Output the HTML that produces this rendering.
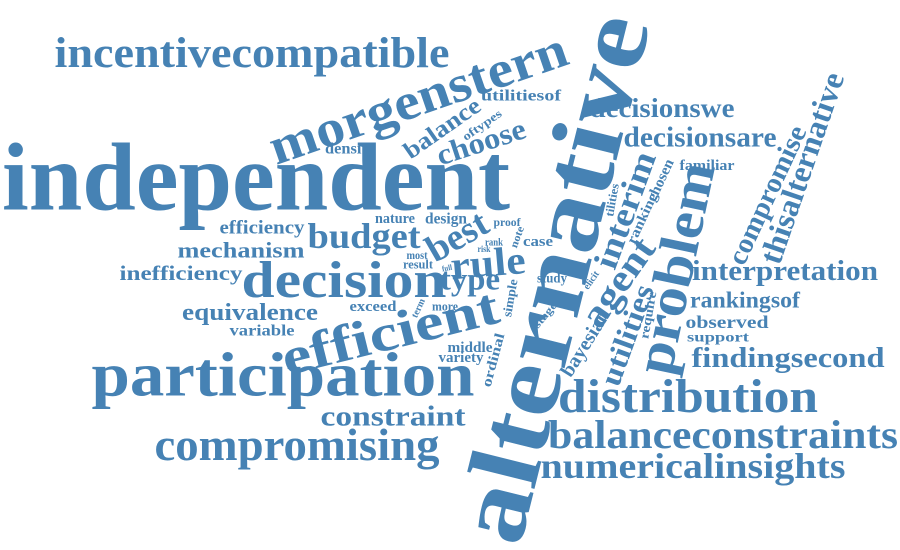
<!DOCTYPE html>
<html><head><meta charset="utf-8"><style>
html,body{margin:0;padding:0;background:#fff;width:900px;height:550px;overflow:hidden}
svg text{font-family:"Liberation Serif",serif;font-weight:bold;fill:#4682b4}
</style></head><body>
<svg id="cloud" width="900" height="550" viewBox="0 0 900 550" xmlns="http://www.w3.org/2000/svg"></svg>
<script>
const words = ["independent","incentivecompatible","morgenstern","alternative","participation","decision","efficient","distribution","balanceconstraints","numericalinsights","compromising","constraint","problem","agent","interim","utilities","bayesian","compromise","thisalternative","interpretation","rankingsof","observed","support","findingsecond","decisionswe","decisionsare","familiar","chosen","ranking","tilities","require","choose","balance","utilitiesof","oftypes","density","efficiency","mechanism","budget","nature","design","best","proof","rank","risk","note","case","most","result","full","rule","type","study","elicit","simple","stage","term","more","exceed","middle","variety","ordinal","equivalence","variable","inefficiency"];
const weights = [96,43,52,100,62,52,52,48,40,36,46,29,55,38,34,30,20,28,32,28,23,18,14,28,27,29,15,15,14,12,13,30,24,16,12,16,19,22,36,15,16,38,12,10,9,11,15,12,13,8,40,32,14,10,13,11,10,13,15,15,15,14,24,16,21];
const cxs = [256,252,418,553,283,344,390,688,723,693,297,393,675,618,625,627,585,767,802,785,745,727,718,788,662,700,707,660,642,612,648,481,442,521,482,350,262,241,364,395,446,457,507,494,484,517,538,417,418,447,488,470,552,591,510,545,418,445,373,470,461,493,250,262,181];
const cys = [178,53,98,278,375,280,332,396,435,466,445,416,268,282,210,335,343,195,168,271,300,322,337,358,108,137,165,180,218,200,315,142,128,95,125,148,227,250,236,218,218,236,222,242,249,237,241,255,264,268,263,279,278,280,298,315,308,306,306,347,357,360,312,330,273];
const angles = [0,0,-19,-76,0,0,-14,0,0,0,0,0,-78,-55,-70,-70,-58,-65,-71,0,0,0,0,0,0,0,0,-65,-65,-80,-80,-18,-35,0,-35,0,0,0,0,0,0,-30,0,0,0,-70,0,0,0,-10,-5,0,0,-55,-80,-50,-65,0,0,0,0,-75,0,0,0];
const spans = [508,395,312,540,383,205,222,260,350,305,285,145,215,100,122,105,75,150,200,186,110,83,62,193,145,153,55,45,55,33,48,92,88,80,45,50,85,127,113,40,42,65,27,18,13,22,30,21,30,10,75,60,30,20,38,30,20,26,47,45,45,55,136,65,123];

const svg = document.getElementById('cloud');
const NS = 'http://www.w3.org/2000/svg';
for (let i = 0; i < words.length; i++) {
  const t = document.createElementNS(NS, 'text');
  
  
  t.setAttribute('transform', 'translate(' + cxs[i] + ',' + cys[i] + ') rotate(' + angles[i] + ')');
  t.setAttribute('x', 0);
  t.setAttribute('y', (weights[i] * 0.33).toFixed(1));
  t.setAttribute('text-anchor', 'middle');
  t.setAttribute('font-size', weights[i]);
  t.setAttribute('textLength', spans[i]);
  t.setAttribute('lengthAdjust', 'spacingAndGlyphs');
  t.textContent = words[i];
  svg.appendChild(t);
}
</script>
</body></html>
